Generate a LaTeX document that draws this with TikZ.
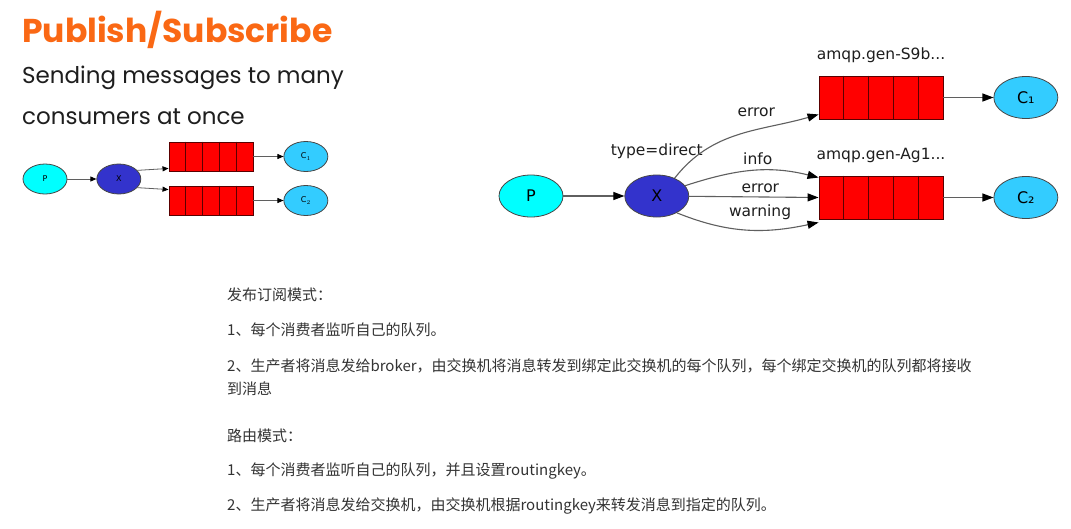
\documentclass[tikz,border=0pt]{standalone}
\usepackage{fontspec}
\setmainfont{DejaVu Sans}
\newfontfamily\headfont{Poppins}
\newfontfamily\cjk{Noto Sans CJK SC}
\usetikzlibrary{shapes.geometric, arrows.meta, positioning, calc}

\definecolor{headorange}{RGB}{250,104,20}
\definecolor{subblack}{RGB}{30,30,30}
\definecolor{textgray}{RGB}{51,51,51}
\definecolor{pcyan}{RGB}{0,255,255}
\definecolor{xblue}{RGB}{51,51,204}
\definecolor{cblue}{RGB}{51,204,255}
\definecolor{qred}{RGB}{255,0,0}
\definecolor{qline}{RGB}{90,0,0}
\definecolor{rimgray}{RGB}{70,70,70}
\definecolor{edgegray}{RGB}{95,95,95}

\begin{document}
\begin{tikzpicture}[x=1pt, y=-1pt, node distance=30pt,
          node/.style={ellipse, draw=rimgray, line width=0.8pt, inner sep=0pt, minimum width=64pt, minimum height=42pt, text=black, font=\fontsize{16}{16}\selectfont},
          snode/.style={node, minimum width=44pt, minimum height=30pt, font=\fontsize{8}{8}\selectfont},
          queue/.style={rectangle, draw=qline, fill=qred, line width=0.9pt, inner sep=0pt, minimum width=124pt, minimum height=43pt},
          squeue/.style={queue, minimum width=84pt, minimum height=29pt},
          arrow/.style={-{Triangle[length=11pt, width=8pt, color=black]}, draw=edgegray, line width=1.1pt},
          sarrow/.style={-{Triangle[length=6pt, width=5pt, color=black]}, draw=edgegray, line width=0.8pt},
          lbl/.style={font=\fontsize{15.5}{15.5}\selectfont, text=subblack, inner sep=1pt},
          txt/.style={anchor=base west, inner sep=0pt, text=textgray, font=\cjk\fontsize{15}{15}\selectfont}]

        \useasboundingbox[fill=white] (0,0) rectangle (1071,528);

        % heading
        \node [anchor=base west, inner sep=0pt, text=headorange, font=\headfont\bfseries\fontsize{33}{33}\selectfont] (title) at (22,42) {Publish/Subscribe};
        \node [anchor=base west, inner sep=0pt, text=subblack, font=\headfont\fontsize{23}{23}\selectfont] (sub1) at (22,83) {Sending messages to many};
        \node [anchor=base west, inner sep=0pt, text=subblack, font=\headfont\fontsize{23}{23}\selectfont] (sub2) at (22,124) {consumers at once};

        % small diagram (publish/subscribe)
        \node [snode, fill=pcyan] (sp) at (45,179) {P};
        \node [snode, fill=xblue, right=29pt of sp] (sx) {X};
        \node [squeue] (sqa) at (211,156.5) {};
        \node [squeue] (sqb) at (211,200.5) {};
        \node [snode, fill=cblue, right=30pt of sqa] (sca) {C$_1$};
        \node [snode, fill=cblue, right=30pt of sqb] (scb) {C$_2$};

        \draw [sarrow] (sp) -- (sx);
        \draw [sarrow] (sx.25) -- ([yshift=3pt]sqa.south west);
        \draw [sarrow] (sx.-25) -- ([yshift=-4pt]sqb.north west);
        \draw [sarrow] (sqa) -- (sca);
        \draw [sarrow] (sqb) -- (scb);

        % large diagram (routing)
        \node [node, fill=pcyan] (p) at (531,196) {P};
        \node [node, fill=xblue, right=61pt of p] (x) {X};
        \node [queue] (qa) at (881,97.5) {};
        \node [queue] (qb) at (881,197.5) {};
        \node [node, fill=cblue, right=50pt of qa] (ca) {C₁};
        \node [node, fill=cblue, right=50pt of qb] (cb) {C₂};
        \node [lbl, above=15pt of x] (xtype) {type=direct};
        \node [lbl, above=12pt of qa] (qaname) {amqp.gen-S9b...};
        \node [lbl, above=12pt of qb] (qbname) {amqp.gen-Ag1...};

        \foreach \q in {qa,qb,sqa,sqb}
          \foreach \k in {1,...,4}
            \draw [qline, line width=0.8pt] ($(\q.north west)!\k/5!(\q.north east)$) -- ($(\q.south west)!\k/5!(\q.south east)$);

        \draw [arrow] (p) -- (x);
        \draw [arrow] (x.45) to[out=52, in=196] node[lbl, pos=0.62, above=11pt]{error} ([yshift=5pt]qa.south west);
        \draw [arrow] (x.20) to[out=18, in=166] node[lbl, pos=0.55, above=4pt]{info} ([yshift=-2pt]qb.north west);
        \draw [arrow] (x) -- node[lbl, pos=0.55, above=3pt]{error} (qb.west);
        \draw [arrow] (x.-40) to[out=-22, in=192] node[lbl, pos=0.6, above=9pt]{warning} ([yshift=-3pt]qb.south west);
        \draw [arrow] (qa) -- (ca);
        \draw [arrow] (qb) -- (cb);

        % notes
        \node [txt] (t1) at (227,300.7) {发布订阅模式：};
        \node [txt] (t2) at (227,335.7) {1、每个消费者监听自己的队列。};
        \node [txt] (t3) at (227,371.7) {2、生产者将消息发给broker，由交换机将消息转发到绑定此交换机的每个队列，每个绑定交换机的队列都将接收};
        \node [txt] (t3b) at (227,394.2) {到消息};
        \node [txt] (t4) at (227,441.2) {路由模式：};
        \node [txt] (t5) at (227,475.7) {1、每个消费者监听自己的队列，并且设置routingkey。};
        \node [txt] (t6) at (227,510.7) {2、生产者将消息发给交换机，由交换机根据routingkey来转发消息到指定的队列。};
      \end{tikzpicture}
\end{document}
